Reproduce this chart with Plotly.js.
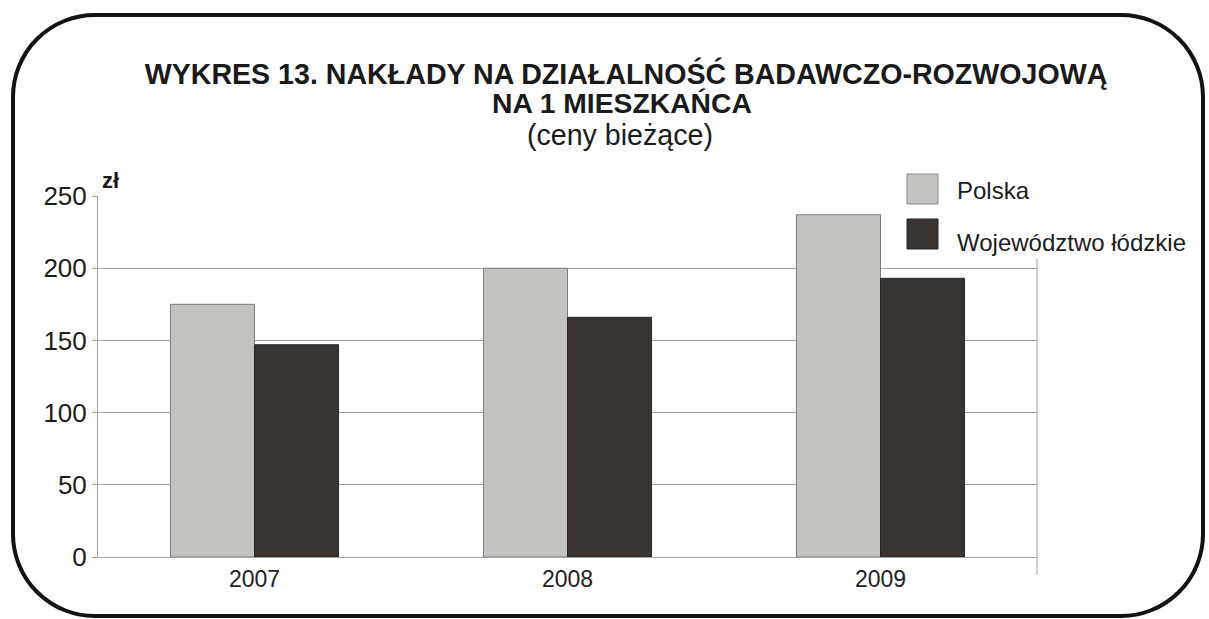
<!DOCTYPE html>
<html>
<head>
<meta charset="utf-8">
<script src="https://cdn.plot.ly/plotly-3.0.1.min.js"></script>
<style>
  html, body { margin: 0; padding: 0; background: #ffffff; }
  #wrap { position: relative; width: 1209px; height: 619px; overflow: hidden; }
  #chart { position: absolute; left: 0; top: 0; width: 1209px; height: 619px; }
  #frame { position: absolute; left: 11px; top: 13px; width: 1194px; height: 605px;
           box-sizing: border-box; border: 4.5px solid #141210; border-radius: 84px;
           pointer-events: none; }
</style>
</head>
<body>
<div id="wrap">
  <div id="chart"></div>
  <div id="frame"></div>
</div>
<script>
// ---- data ----
const categories = ['2007', '2008', '2009'];
const polska = [175, 200, 237];
const lodzkie = [147, 166, 193];
const seriesNames = ['Polska', 'Województwo łódzkie'];
const yTicks = [0, 50, 100, 150, 200, 250];
const titleLine1 = 'WYKRES 13. NAKŁADY NA DZIAŁALNOŚĆ BADAWCZO-ROZWOJOWĄ';
const titleLine2 = 'NA 1 MIESZKAŃCA';
const titleLine3 = '(ceny bieżące)';
const unitLabel = 'zł';

// ---- layout helpers (pixel -> paper) ----
const W = 1209, H = 619;
const M = { l: 98, r: 172, t: 196, b: 62 };
const PW = W - M.l - M.r, PH = H - M.t - M.b;
const px = x => (x - M.l) / PW;
const py = y => (H - M.b - y) / PH;

const FONT = 'Liberation Sans, Arial, Helvetica, sans-serif';
const C_LIGHT = '#c3c3c0', C_DARK = '#39342f', GRID = '#a3a3a3';

const traces = [
  { type: 'bar', name: seriesNames[0], x: categories, y: polska,
    marker: { color: C_LIGHT, line: { color: '#7c7c7c', width: 1 } } },
  { type: 'bar', name: seriesNames[1], x: categories, y: lodzkie,
    marker: { color: C_DARK, line: { color: '#2a2623', width: 1 } } }
];

const layout = {
  width: W, height: H,
  margin: M,
  paper_bgcolor: '#ffffff', plot_bgcolor: '#ffffff',
  barmode: 'group', bargap: 0.463, bargroupgap: 0,
  showlegend: false,
  font: { family: FONT, color: '#1c1c1c' },
  title: {
    text: '<b>' + titleLine1 + '</b>',
    font: { family: FONT, size: 28.6, color: '#1a1a1a' },
    xref: 'container', yref: 'container',
    x: 626 / W, xanchor: 'center',
    y: 1 - 74 / H, yanchor: 'middle'
  },
  xaxis: {
    type: 'category',
    showgrid: false, zeroline: false,
    showline: true, linecolor: GRID, linewidth: 1,
    ticks: '', tickfont: { family: FONT, size: 23, color: '#222' },
    ticklabelstandoff: 1
  },
  yaxis: {
    range: [0, 250], tickvals: yTicks, ticktext: yTicks.map(String),
    showgrid: true, gridcolor: GRID, gridwidth: 1,
    zeroline: false, showline: true, linecolor: GRID, linewidth: 1,
    ticks: 'outside', ticklen: 5, tickcolor: GRID,
    tickfont: { family: FONT, size: 26, color: '#1c1c1c' }
  },
  shapes: [
    // mask top-right region behind legend
    { type: 'rect', xref: 'paper', yref: 'paper', layer: 'above',
      x0: px(884), x1: px(1060), y0: py(261), y1: py(188),
      line: { width: 0 }, fillcolor: '#ffffff' },
    // right border line
    { type: 'line', xref: 'paper', yref: 'paper', layer: 'above',
      x0: 1, x1: 1, y0: py(575), y1: py(259),
      line: { color: GRID, width: 1 } },
    // legend squares
    { type: 'rect', xref: 'paper', yref: 'paper', layer: 'above',
      x0: px(907), x1: px(938), y0: py(204), y1: py(174),
      line: { color: '#8a8a8a', width: 1 }, fillcolor: C_LIGHT },
    { type: 'rect', xref: 'paper', yref: 'paper', layer: 'above',
      x0: px(907), x1: px(938), y0: py(249), y1: py(219),
      line: { color: '#2a2623', width: 1 }, fillcolor: C_DARK }
  ],
  annotations: [
    { text: '<b>' + titleLine2 + '</b>', xref: 'paper', yref: 'paper',
      x: px(622), y: py(103), xanchor: 'center', yanchor: 'middle', showarrow: false,
      font: { family: FONT, size: 28.3, color: '#1a1a1a' } },
    { text: titleLine3, xref: 'paper', yref: 'paper',
      x: px(620), y: py(135), xanchor: 'center', yanchor: 'middle', showarrow: false,
      font: { family: FONT, size: 28.6, color: '#1a1a1a' } },
    { text: '<b>' + unitLabel + '</b>', xref: 'paper', yref: 'paper',
      x: px(100), y: py(180), xanchor: 'left', yanchor: 'middle', showarrow: false,
      font: { family: FONT, size: 22, color: '#1a1a1a' } },
    { text: seriesNames[0], xref: 'paper', yref: 'paper',
      x: px(955), y: py(191), xanchor: 'left', yanchor: 'middle', showarrow: false,
      font: { family: FONT, size: 24, color: '#1c1c1c' } },
    { text: seriesNames[1], xref: 'paper', yref: 'paper',
      x: px(955), y: py(242), xanchor: 'left', yanchor: 'middle', showarrow: false,
      font: { family: FONT, size: 24, color: '#1c1c1c' } }
  ]
};

Plotly.newPlot('chart', traces, layout, { displayModeBar: false, staticPlot: true });
</script>
</body>
</html>
